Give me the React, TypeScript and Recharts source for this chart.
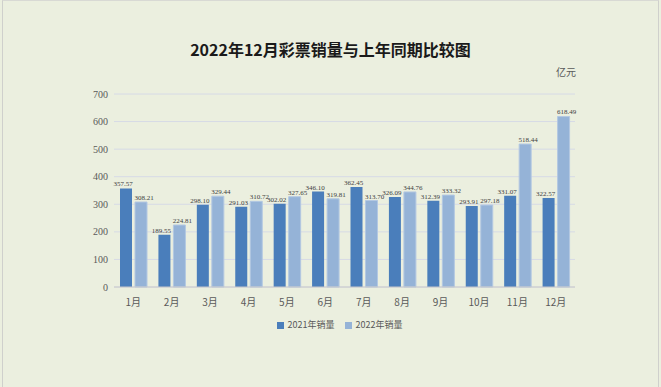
import { BarChart, Bar, XAxis, YAxis, CartesianGrid, Legend, LabelList } from "recharts";

const months = ["1月", "2月", "3月", "4月", "5月", "6月", "7月", "8月", "9月", "10月", "11月", "12月"];
const sales2021 = [357.57, 189.55, 298.1, 291.03, 302.02, 346.1, 362.45, 326.09, 312.39, 293.91, 331.07, 322.57];
const sales2022 = [308.21, 224.81, 329.44, 310.72, 327.65, 319.81, 313.7, 344.76, 333.32, 297.18, 518.44, 618.49];
const yTicks = [0, 100, 200, 300, 400, 500, 600, 700];

const data = months.map((m, i) => ({ month: m, a: sales2021[i], b: sales2022[i] }));

const fmt = (v: any) => Number(v).toFixed(2);

const labelStyle = { fill: "#404040", fontSize: 7, fontFamily: "'Liberation Serif', serif" };

export default function App() {
  return (
    <div
      style={{
        position: "absolute",
        top: 0,
        left: 0,
        width: 661,
        height: 387,
        background: "#ebefdf",
        fontFamily: "'Noto Sans CJK SC', sans-serif",
      }}
    >
      <div
        style={{
          position: "absolute",
          left: 2,
          top: 0,
          width: 657,
          height: 387,
          boxSizing: "border-box",
          borderLeft: "1px solid #cfd0cc",
          borderRight: "1px solid #cfd0cc",
          borderTop: "1px solid #d8d9d4",
        }}
      />
      <div
        style={{
          position: "absolute",
          top: 37,
          left: 0,
          width: 661,
          textAlign: "center",
          fontSize: 16,
          fontWeight: "bold",
          color: "#1a1a1a",
        }}
      >
        2022年12月彩票销量与上年同期比较图
      </div>
      <div style={{ position: "absolute", top: 64, left: 556, fontSize: 10, color: "#595959" }}>亿元</div>
      <BarChart
        width={661}
        height={387}
        data={data}
        margin={{ top: 94, right: 86, bottom: 57, left: 14 }}
        barSize={12}
        barGap={3}
      >
        <CartesianGrid vertical={false} stroke="#d6dae6" />
        <XAxis
          dataKey="month"
          height={30}
          tickLine={false}
          axisLine={{ stroke: "#c8c8c8" }}
          tick={{ fill: "#595959", fontSize: 10 }}
          tickMargin={6}
        />
        <YAxis
          width={100}
          domain={[0, 700]}
          ticks={yTicks}
          axisLine={false}
          tickLine={false}
          tickSize={0}
          tickMargin={6}
          tick={{ fill: "#595959", fontSize: 10, fontFamily: "'Liberation Serif', serif" }}
        />
        <Legend
          verticalAlign="bottom"
          iconType="square"
          iconSize={7}
          wrapperStyle={{ top: 318, left: 114, width: 461, fontSize: 9, color: "#595959" }}
          formatter={(value) => <span style={{ color: "#595959" }}>{value}</span>}
        />
        <Bar dataKey="a" name="2021年销量" fill="#4a7ebb" isAnimationActive={false}>
          <LabelList dataKey="a" position="top" offset={2} dx={-3} formatter={fmt} style={labelStyle} />
        </Bar>
        <Bar dataKey="b" name="2022年销量" fill="#95b3d7" stroke="#b3c8e2" isAnimationActive={false}>
          <LabelList dataKey="b" position="top" offset={2} dx={3} formatter={fmt} style={labelStyle} />
        </Bar>
      </BarChart>
    </div>
  );
}
